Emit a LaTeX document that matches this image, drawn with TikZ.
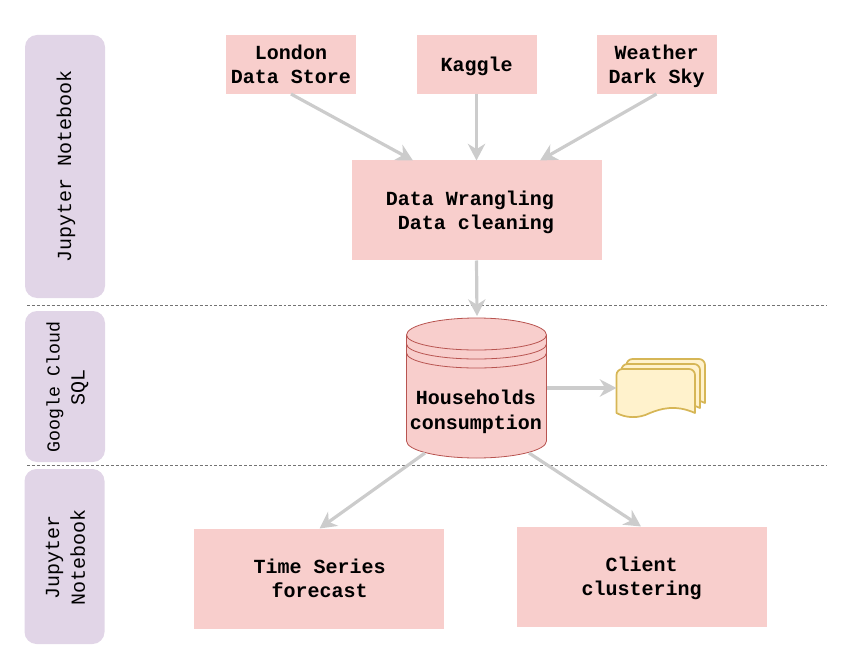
\documentclass[tikz,border=0pt]{standalone}
\usepackage{fontspec}
\setmainfont{Liberation Mono}
\usetikzlibrary{arrows.meta}
\definecolor{boxpink}{HTML}{F8CECC}
\definecolor{boxred}{HTML}{B85450}
\definecolor{lane}{HTML}{E1D5E7}
\definecolor{docfill}{HTML}{FFF2CC}
\definecolor{docline}{HTML}{D6B656}
\definecolor{arrowgray}{HTML}{CCCCCC}
\newcommand{\nodepth}[1]{\raisebox{0pt}[\height][0pt]{#1}}
\tikzset{
  pinkbox/.style={fill=boxpink,inner sep=0pt,outer sep=0pt,align=center,
    font=\fontsize{15}{18}\selectfont\bfseries},
  lanebox/.style={fill=lane,rounded corners=9pt,inner sep=0pt,outer sep=0pt,minimum width=60pt},
  lanetext/.style={rotate=90,align=center,inner sep=0pt,font=\fontsize{15}{18.75}\selectfont},
  flow/.style={draw=arrowgray,line width=2.4pt,-{Stealth[length=12.5pt,width=13pt,inset=4pt]}},
  sep/.style={draw=black!55,line width=.6pt,dash pattern=on 2.2pt off 1.5pt},
  cylline/.style={draw=boxred,line width=.6pt},
  sheet/.style={draw=docline,fill=docfill,line width=1.3pt,line join=round},
}
\begin{document}
\begin{tikzpicture}[x=.75pt,y=-.75pt]
\useasboundingbox (0,0) rectangle (848,666);
% swimlanes
\node[lanebox,minimum height=197.25pt] (laneA) at (65,166.5) {};
\node[lanebox,minimum height=113.25pt] (laneB) at (65,386.5) {};
\node[lanebox,minimum height=131.25pt] (laneC) at (64.5,556.5) {};
\node[lanetext] (laneAt) at (66,166) {Jupyter Notebook};
\node[lanetext] (laneBt) at (67.5,387) {{\fontsize{13.7}{18.75}\selectfont Google Cloud}\\SQL};
\node[lanetext,font=\fontsize{15}{19.25}\selectfont] (laneCt) at (65.5,557) {Jupyter\\Notebook};
% separators
\coordinate (sepAa) at (27,305.5); \coordinate (sepAb) at (827,305.5);
\coordinate (sepBa) at (27,465.5); \coordinate (sepBb) at (827,465.5);
\draw[sep] (sepAa) -- (sepAb);
\draw[sep] (sepBa) -- (sepBb);
% boxes
\node[pinkbox,minimum width=97.5pt,minimum height=44.25pt] (london) at (291,64.5) {London\\Data Store};
\node[pinkbox,minimum width=90pt,minimum height=44.25pt] (kaggle) at (476.5,64.5) {\nodepth{Kaggle}};
\node[pinkbox,minimum width=90pt,minimum height=44.25pt] (weather) at (656.5,64.5) {Weather\\\nodepth{Dark Sky}};
\node[pinkbox,minimum width=187.5pt,minimum height=75pt] (wrangle) at (476.5,210.5) {};
\node[inner sep=0pt,align=right,font=\fontsize{15}{18}\selectfont\bfseries] (wrangletext) at (470,212.5) {Data Wrangling\\Data cleaning};
\node[pinkbox,minimum width=187.5pt,minimum height=75pt] (forecast) at (319,578.5) {\hspace*{1pt}Time Series\\\hspace*{1pt}forecast};
\node[pinkbox,minimum width=187.5pt,minimum height=75pt] (client) at (641.5,576.5) {Client\\\nodepth{clustering}};
% cylinder
\draw[cylline,fill=boxpink] (406.5,335) arc[x radius=52.5pt,y radius=12.75pt,start angle=180,end angle=0]
  -- (546.5,441) arc[x radius=52.5pt,y radius=12.75pt,start angle=0,end angle=-180] -- cycle;
\draw[cylline] (406.5,335) arc[x radius=52.5pt,y radius=11.25pt,start angle=180,end angle=360];
\draw[cylline] (406.5,344) arc[x radius=52.5pt,y radius=11.25pt,start angle=180,end angle=360];
\draw[cylline] (406.5,353) arc[x radius=52.5pt,y radius=11.25pt,start angle=180,end angle=360];
\node[minimum width=105pt,minimum height=105pt,inner sep=0pt,outer sep=0pt] (cyl) at (476.5,388) {};
\node[inner sep=0pt,align=center,font=\fontsize{15}{18.75}\selectfont\bfseries] (cyltext) at (476,411.5) {Households\\consumption};
% document stack
\newcommand{\sheetpath}[2]{%
  \draw[sheet,shift={(#1,#2)}] (616.5,413) -- (616.5,375) arc[radius=4.5pt,start angle=180,end angle=90]
    -- (689,369) arc[radius=4.5pt,start angle=90,end angle=0] -- (695,413)
    .. controls (675,404) and (660,409) .. (650,413) .. controls (638,419) and (626,418) .. (616.5,413) -- cycle;}
\sheetpath{10}{-10}
\sheetpath{5}{-5}
\sheetpath{0}{0}
\node[minimum width=58.5pt,minimum height=36pt,inner sep=0pt,outer sep=0pt] (docs) at (655.5,388) {};
% connector ends
\coordinate (wrangleA) at (413,160.5);
\coordinate (wrangleC) at (540,160.5);
\coordinate (cylTop) at (477,316);
\coordinate (cylL) at (425,453);
\coordinate (cylR) at (529,453);
\coordinate (forecastTop) at (319.5,528.5);
\coordinate (clientTop) at (641,526.5);
\coordinate (londonOut) at (291,94);
\coordinate (weatherOut) at (656.5,94);
% connectors
\draw[flow] (londonOut) -- (wrangleA);
\draw[flow] (kaggle.south) -- (wrangle.north);
\draw[flow] (weatherOut) -- (wrangleC);
\draw[flow] (wrangle.south) -- (cylTop);
\draw[flow] (cyl.east) -- (docs.west);
\draw[flow] (cylL) -- (forecastTop);
\draw[flow] (cylR) -- (clientTop);
\end{tikzpicture}
\end{document}
